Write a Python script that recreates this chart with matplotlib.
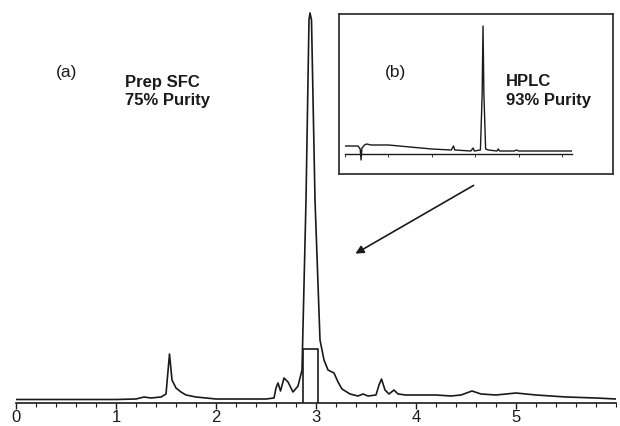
import matplotlib
matplotlib.use("Agg")
import matplotlib.pyplot as plt
import numpy as np

plt.rcParams['font.family'] = ['Liberation Sans', 'DejaVu Sans']

# main chromatogram (a): retention time (min) vs detector signal (arbitrary units)
t_main = [0.0, 0.5, 1.0, 1.2, 1.28, 1.35, 1.45, 1.50, 1.535, 1.56, 1.6, 1.65, 1.7, 1.8,
          2.0, 2.3, 2.5, 2.58, 2.60, 2.62, 2.645, 2.68, 2.72, 2.77, 2.82, 2.86, 2.90,
          2.93, 2.94, 2.955, 2.99, 3.04, 3.08, 3.12, 3.18, 3.22, 3.26, 3.34, 3.42, 3.47,
          3.52, 3.6, 3.63, 3.655, 3.69, 3.73, 3.78, 3.82, 3.9, 4.0, 4.2, 4.35, 4.45, 4.56,
          4.65, 4.8, 5.0, 5.2, 5.5, 5.8, 6.0]
s_main = [0.5, 0.5, 0.5, 1, 3, 2, 3, 6, 46, 20, 12, 8, 5, 3,
          1, 1, 1, 2, 12, 17, 9, 22, 18, 8, 14, 30, 200,
          380, 387, 380, 200, 60, 40, 30, 27, 18, 11, 6, 4, 6,
          4, 5, 15, 21, 10, 6, 10, 6, 5, 5, 5, 4, 5, 9,
          6, 5, 7, 5, 3, 2, 1]

# collected fraction window
frac_start, frac_end, frac_height = 2.87, 3.02, 51

# inset chromatogram (b)
t_inset = [0.0, 0.3, 0.35, 0.37, 0.39, 0.45, 0.5, 0.6, 1.0, 1.5, 2.0, 2.45, 2.5, 2.53,
           2.9, 2.95, 2.98, 3.12, 3.16, 3.18, 3.20, 3.24, 3.3, 3.5, 3.53, 3.56, 3.9,
           3.95, 4.0, 5.23]
s_inset = [8, 8, 5, -6, 6, 9, 10, 9, 9, 7, 5, 4, 8, 4,
           3, 6, 3, 4, 60, 128, 60, 5, 4, 3, 5, 3, 3,
           4, 3, 3]

W, H = 620, 426
ink = '#1a1a1a'

fig = plt.figure(figsize=(6.2, 4.26), dpi=100)

def box(x0, y0, x1, y1):
    # pixel box (top-left origin) -> figure fraction rect
    return [x0 / W, (H - y1) / H, (x1 - x0) / W, (y1 - y0) / H]

ax = fig.add_axes(box(16, 10, 616, 403))
ax.plot(t_main, s_main, color=ink, lw=1.2)
ax.plot([frac_start, frac_start, frac_end, frac_end], [-3, frac_height, frac_height, -3],
        color=ink, lw=1.2)
ax.set_xlim(0, 6)
ax.set_ylim(-3, 390)
for side in ['left', 'top', 'right']:
    ax.spines[side].set_visible(False)
ax.spines['bottom'].set_linewidth(1.2)
ax.spines['bottom'].set_color(ink)
ax.set_yticks([])
ax.set_xticks(np.arange(0, 6, 1))
ax.set_xticks(np.arange(0, 6.01, 0.2), minor=True)
ax.tick_params(axis='x', which='major', length=4, width=1, pad=1, labelsize=12,
               colors=ink)
ax.tick_params(axis='x', which='minor', length=3, width=0.8, colors=ink)

fig.text(67 / W, 1 - 72 / H, '(a)', fontsize=12.5, ha='center', va='center', color=ink)
fig.text(125 / W, 1 - 83 / H, 'Prep SFC', fontsize=12, fontweight='bold', ha='left',
         va='center', color=ink)
fig.text(125 / W, 1 - 101 / H, '75% Purity', fontsize=12, fontweight='bold', ha='left',
         va='center', color=ink)

# inset frame
frame = fig.add_axes(box(339, 14, 613, 174))
frame.set_xticks([])
frame.set_yticks([])
for sp in frame.spines.values():
    sp.set_linewidth(1.3)
    sp.set_color('#333333')

inner = fig.add_axes(box(345, 24, 572, 164))
inner.patch.set_visible(False)
inner.plot(t_inset, s_inset, color=ink, lw=1.0)
inner.set_xlim(0, 5.23)
inner.set_ylim(-10, 130)
for side in ['left', 'top', 'right']:
    inner.spines[side].set_visible(False)
inner.spines['bottom'].set_position(('data', 0))
inner.spines['bottom'].set_linewidth(1.0)
inner.spines['bottom'].set_color(ink)
inner.set_yticks([])
inner.set_xticks(np.arange(0, 6, 1))
inner.set_xticklabels([])
inner.tick_params(axis='x', length=2, width=0.6, colors=ink)

fig.text(395 / W, 1 - 73 / H, '(b)', fontsize=12.5, ha='center', va='center', color=ink)
fig.text(506 / W, 1 - 82 / H, 'HPLC', fontsize=12, fontweight='bold', ha='left',
         va='center', color=ink)
fig.text(506 / W, 1 - 100 / H, '93% Purity', fontsize=12, fontweight='bold', ha='left',
         va='center', color=ink)

fig.add_artist(matplotlib.patches.FancyArrowPatch(
    (476 / W, 1 - 184 / H), (353 / W, 1 - 255 / H), transform=fig.transFigure,
    arrowstyle='-|>', mutation_scale=12, color=ink, lw=1.2))

fig.savefig('out.png', dpi=100)
